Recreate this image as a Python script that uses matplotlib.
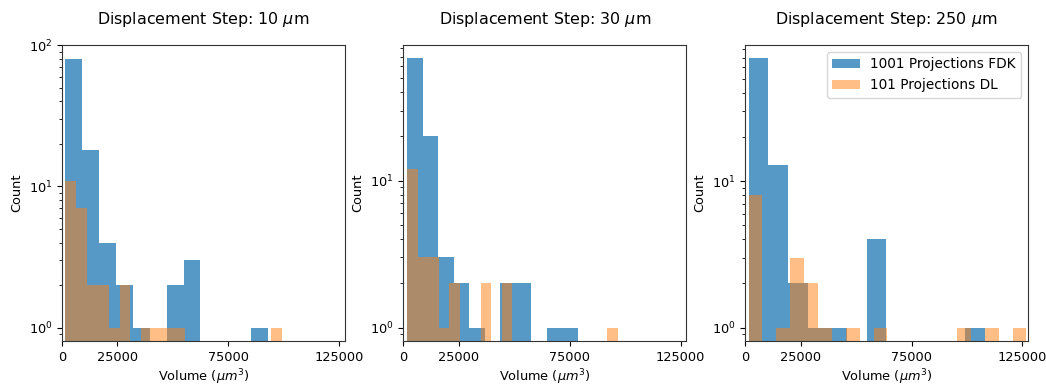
import numpy as np
import matplotlib
matplotlib.use("Agg")
import matplotlib.pyplot as plt

# ---- data ----
steps = ["10", "30", "250"]

# FDK (1001 projections) histogram: bin range and counts
fdk_range_10 = (1575, 92835)
fdk_counts_10 = [80, 18, 4, 2, 1, 0, 2, 3, 0, 0, 0, 1]
fdk_range_30 = (1710, 78705)
fdk_counts_30 = [68, 20, 3, 2, 1, 0, 2, 2, 0, 1, 1]
fdk_range_250 = (1490, 108070)
fdk_counts_250 = [69, 13, 2, 1, 1, 0, 4, 0, 0, 0, 0, 1]

# DL (101 projections) histogram: bin range and counts
dl_range_10 = (1575, 99225)
dl_counts_10 = [11, 7, 2, 2, 1, 2, 0, 1, 1, 1, 1, 0, 0, 0, 0, 0, 0, 0, 0, 1]
dl_range_30 = (1710, 96570)
dl_counts_30 = [12, 3, 3, 1, 2, 0, 0, 2, 0, 2, 0, 0, 0, 0, 0, 0, 0, 0, 0, 1]
dl_range_250 = (1490, 126815)
dl_counts_250 = [8, 0, 1, 3, 2, 1, 0, 1, 0, 1, 0, 0, 0, 0, 0, 1, 0, 1, 0, 1]

xticks = [0, 25000, 75000, 125000]

fdk = [(fdk_range_10, fdk_counts_10), (fdk_range_30, fdk_counts_30), (fdk_range_250, fdk_counts_250)]
dl = [(dl_range_10, dl_counts_10), (dl_range_30, dl_counts_30), (dl_range_250, dl_counts_250)]

fig = plt.figure(figsize=(10.46, 3.84), dpi=100)
lefts = [62, 403.4, 745.2]
W, H = 1046.0, 384.0
ax_w = 283.0
top_px, bot_px = 45.0, 341.0

for i, step in enumerate(steps):
    ax = fig.add_axes([lefts[i] / W, (H - bot_px) / H, ax_w / W, (bot_px - top_px) / H])
    maxc = 1
    for (rng, counts), color, alpha, label in [
        (fdk[i], "#1f77b4", 0.75, "1001 Projections FDK"),
        (dl[i], "#ff7f0e", 0.5, "101 Projections DL"),
    ]:
        counts = np.asarray(counts, dtype=float)
        edges = np.linspace(rng[0], rng[1], len(counts) + 1)
        centers = 0.5 * (edges[:-1] + edges[1:])
        ax.hist(centers, bins=edges, weights=counts, color=color, alpha=alpha,
                log=True, label=label)
        maxc = max(maxc, counts.max())
    lm = np.log10(maxc)
    top = 10 ** (1.05 * lm)
    if top > 99:
        top = 100.3
    ax.set_ylim(10 ** (-0.05 * lm), top)
    ax.set_xlim(0, 127600)
    ax.set_xticks(xticks)
    ax.set_xticklabels([str(t) for t in xticks])
    ax.tick_params(labelsize=9.3)
    ax.set_title(f"Displacement Step: {step} $\\mu$m", fontsize=11.4, pad=15)
    ax.set_xlabel("Volume ($\\mu m^3$)", fontsize=9.3, labelpad=3)
    ax.set_ylabel("Count", fontsize=9.3)
    for s in ax.spines.values():
        s.set_color("#333333")
    if i == 2:
        ax.legend(loc="upper right", fontsize=9.8)

fig.savefig("out.png", dpi=100)
